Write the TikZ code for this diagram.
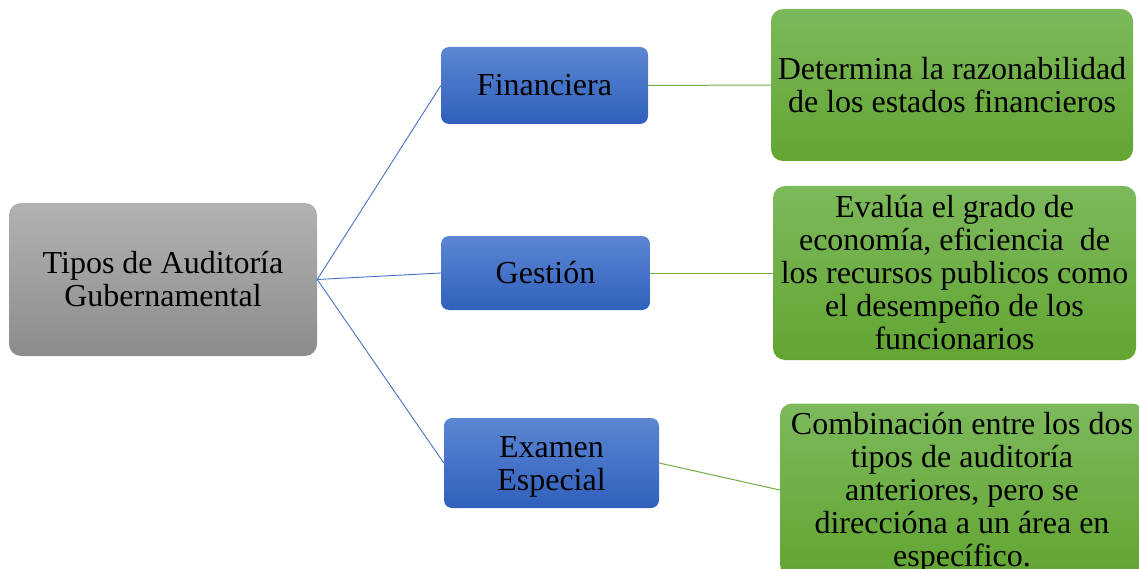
\documentclass[tikz,border=0pt]{standalone}
\usepackage{fontspec}
\setmainfont{Liberation Serif}
\definecolor{grayT}{HTML}{B2B2B2}
\definecolor{grayB}{HTML}{8C8C8C}
\definecolor{blueT}{HTML}{5C86D2}
\definecolor{blueB}{HTML}{2F60BC}
\definecolor{greenT}{HTML}{7CB95B}
\definecolor{greenB}{HTML}{62A532}
\definecolor{blueLine}{HTML}{4472C4}
\definecolor{greenLine}{HTML}{70AD47}
\newcommand{\lowered}[1]{\raisebox{0pt}[\dimexpr\height+8pt\relax][\depth]{\begin{tabular}{@{}c@{}}#1\end{tabular}}}
\begin{document}
\begin{tikzpicture}[x=1pt,y=-1pt,
  box/.style={align=center, inner sep=0pt, draw=none, font=\fontsize{32}{33}\selectfont},
  rootbox/.style={box, rounded corners=12pt, top color=grayT, bottom color=grayB},
  typebox/.style={box, rounded corners=8pt, top color=blueT, bottom color=blueB},
  descbox/.style={box, rounded corners=12pt, top color=greenT, bottom color=greenB},
  bline/.style={draw=blueLine, line width=0.9pt},
  gline/.style={draw=greenLine, line width=1pt}]
\useasboundingbox (0,0) rectangle (1139,569);
\clip (0,0) rectangle (1139,569);
\node[rootbox, minimum width=308pt, minimum height=153pt] (root) at (163,279.5) {Tipos de Auditoría\\Gubernamental};
\node[typebox, minimum width=207pt, minimum height=77pt] (fin) at (544.5,85.5) {Financiera};
\node[typebox, minimum width=209pt, minimum height=74pt] (ges) at (545.5,273) {Gestión};
\node[typebox, minimum width=215pt, minimum height=90pt] (exa) at (551.5,463) {\lowered{Examen\\Especial}};
\node[descbox, minimum width=362pt, minimum height=152pt] (d1) at (952,85) {Determina la razonabilidad\\de los estados financieros};
\node[descbox, minimum width=363pt, minimum height=174pt] (d2) at (954.5,273) {Evalúa el grado de\\economía, eficiencia\ \ de\\los recursos publicos como\\el desempeño de los\\funcionarios};
\node[descbox, minimum width=364pt, minimum height=164pt] (d3) at (962,490) {\lowered{Combinación entre los dos\\tipos de auditoría\\anteriores, pero se\\direccióna a un área en\\específico.}};
\draw[bline] (root.east) -- (fin.west);
\draw[bline] (root.east) -- (ges.west);
\draw[bline] (root.east) -- (exa.west);
\draw[gline] (fin.east) -- (d1.west);
\draw[gline] (ges.east) -- (d2.west);
\draw[gline] (exa.east) -- (d3.west);
\end{tikzpicture}
\end{document}
